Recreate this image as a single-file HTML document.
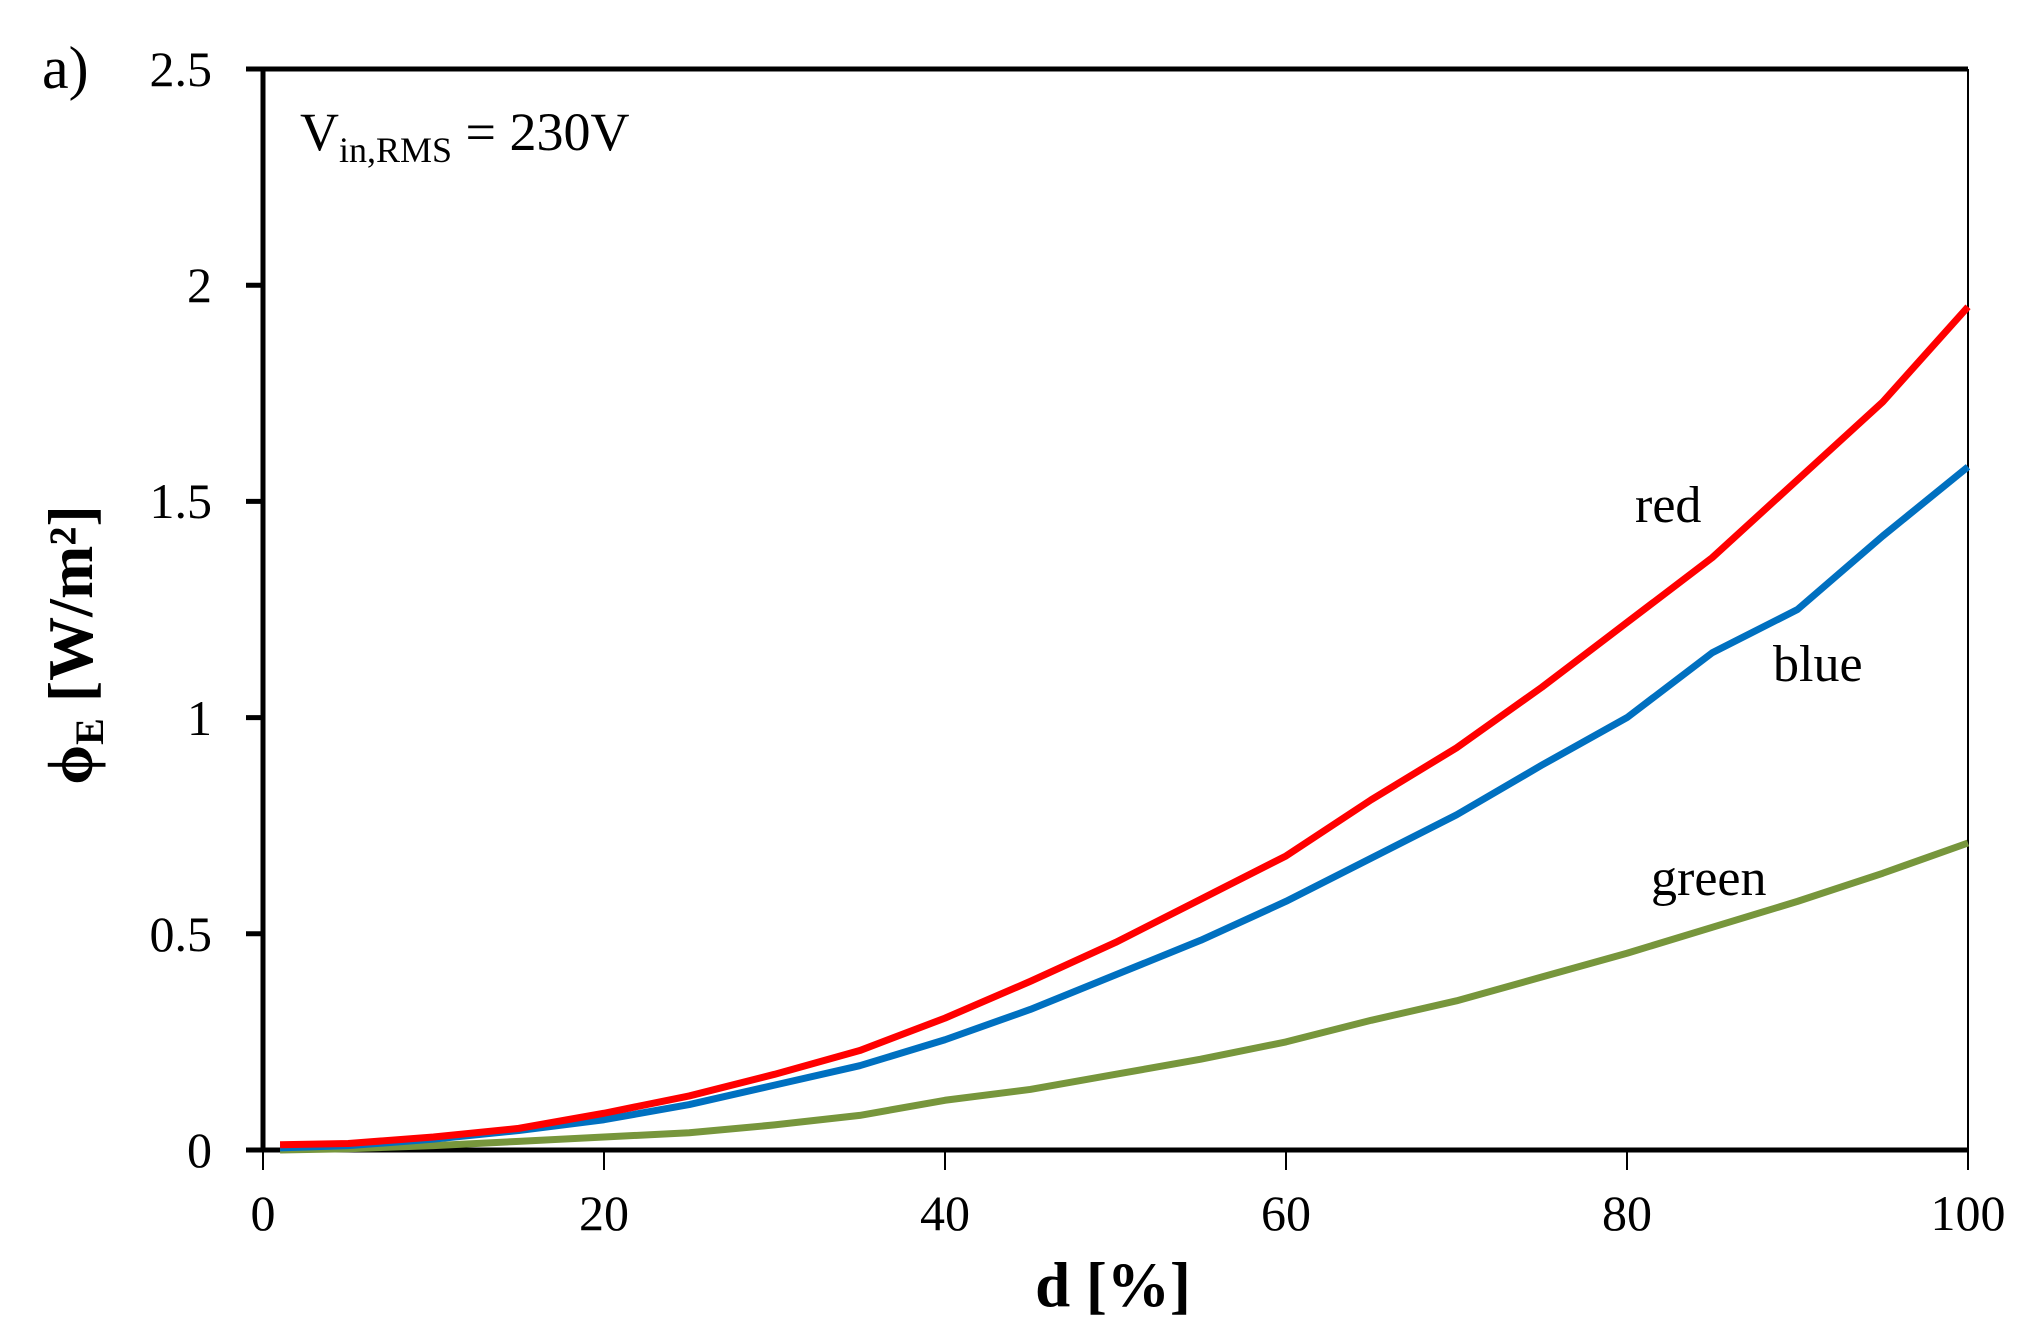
<!DOCTYPE html>
<html><head><meta charset="utf-8"><style>
html,body{margin:0;padding:0;background:#fff;}
svg{display:block;font-family:"Liberation Serif",serif;}
</style></head><body>
<svg width="2033" height="1342" viewBox="0 0 2033 1342" xmlns="http://www.w3.org/2000/svg">
<rect width="2033" height="1342" fill="#fff"/>
<line x1="1968" y1="69" x2="1968" y2="1150" stroke="#000" stroke-width="2"/>
<line x1="246" y1="69" x2="1968" y2="69" stroke="#000" stroke-width="5"/>
<line x1="263" y1="67" x2="263" y2="1152" stroke="#000" stroke-width="5"/>
<line x1="246" y1="1150" x2="1968" y2="1150" stroke="#000" stroke-width="5"/>
<g stroke="#000" stroke-width="5">
<line x1="246" y1="285.2" x2="263" y2="285.2"/>
<line x1="246" y1="501.4" x2="263" y2="501.4"/>
<line x1="246" y1="717.6" x2="263" y2="717.6"/>
<line x1="246" y1="933.8" x2="263" y2="933.8"/>
</g>
<g stroke="#000" stroke-width="2">
<line x1="263" y1="1150" x2="263" y2="1170"/>
<line x1="604" y1="1150" x2="604" y2="1170"/>
<line x1="945" y1="1150" x2="945" y2="1170"/>
<line x1="1286" y1="1150" x2="1286" y2="1170"/>
<line x1="1627" y1="1150" x2="1627" y2="1170"/>
<line x1="1968" y1="1150" x2="1968" y2="1170"/>
</g>
<g font-size="50" text-anchor="end">
<text x="212" y="86">2.5</text>
<text x="212" y="302">2</text>
<text x="212" y="518">1.5</text>
<text x="212" y="735">1</text>
<text x="212" y="951">0.5</text>
<text x="212" y="1167">0</text>
</g>
<g font-size="50" text-anchor="middle">
<text x="263" y="1230">0</text>
<text x="604" y="1230">20</text>
<text x="945" y="1230">40</text>
<text x="1286" y="1230">60</text>
<text x="1627" y="1230">80</text>
<text x="1968" y="1230">100</text>
</g>
<text x="1113" y="1306" font-size="63" font-weight="bold" text-anchor="middle">d [%]</text>
<text transform="translate(92,645) rotate(-90)" font-size="64" font-weight="bold" text-anchor="middle">ϕ<tspan font-size="40" dy="11">E</tspan><tspan dy="-11"> [W/m²]</tspan></text>
<text x="42" y="88" font-size="60">a)</text>
<text x="300" y="150" font-size="54">V<tspan font-size="36" dy="12">in,RMS</tspan><tspan dy="-12"> = 230V</tspan></text>
<text x="1635" y="522" font-size="52">red</text>
<text x="1773" y="681" font-size="52">blue</text>
<text x="1651" y="895" font-size="52">green</text>
<g transform="translate(263,1150) scale(17.05,-432.4)" fill="none" stroke-width="7" stroke-linejoin="round">
<polyline vector-effect="non-scaling-stroke" stroke="#77963c" points="1,0 5,0.003 10,0.01 15,0.02 20,0.03 25,0.04 30,0.058 35,0.08 40,0.115 45,0.14 50,0.175 55,0.21 60,0.25 65,0.3 70,0.345 75,0.4 80,0.455 85,0.515 90,0.575 95,0.64 100,0.71"/>
<polyline vector-effect="non-scaling-stroke" stroke="#0070c0" points="1,0.005 5,0.01 10,0.025 15,0.045 20,0.07 25,0.105 30,0.15 35,0.195 40,0.255 45,0.325 50,0.405 55,0.485 60,0.575 65,0.675 70,0.775 75,0.89 80,1.0 85,1.15 90,1.25 95,1.42 100,1.58"/>
<polyline vector-effect="non-scaling-stroke" stroke="#ff0000" points="1,0.012 5,0.015 10,0.03 15,0.05 20,0.085 25,0.125 30,0.175 35,0.23 40,0.305 45,0.39 50,0.48 55,0.58 60,0.68 65,0.81 70,0.93 75,1.07 80,1.22 85,1.37 90,1.55 95,1.73 100,1.95"/>
</g>
</svg>
</body></html>
